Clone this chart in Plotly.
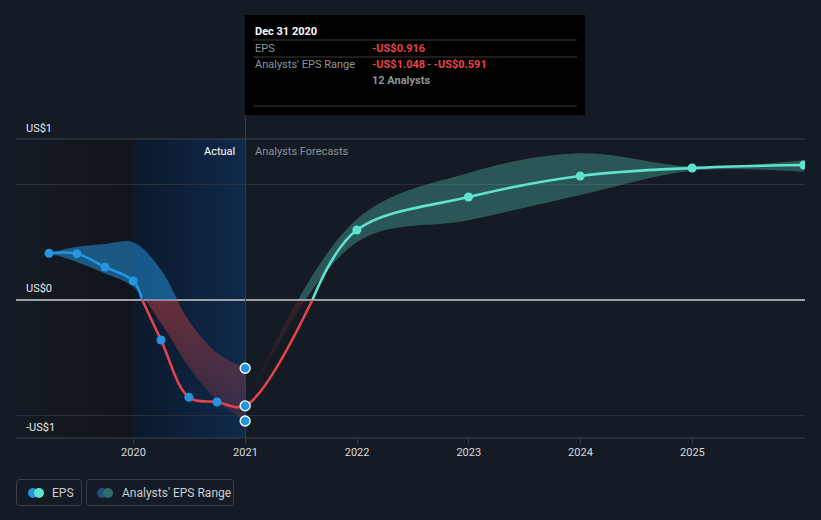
import pandas as pd
import plotly.graph_objects as go

# ---------------- data ----------------
actual_dates = ["2019-03-31", "2019-06-30", "2019-09-30", "2019-12-31",
                "2020-03-31", "2020-06-30", "2020-09-30", "2020-12-31"]
actual_eps = [0.405, 0.40, 0.286, 0.167, -0.346, -0.843, -0.883, -0.916]
actual_range_high = [0.405, 0.46, 0.485, 0.50, 0.26, -0.18, -0.46, -0.591]
actual_range_low = [0.405, 0.33, 0.23, 0.115, -0.20, -0.58, -0.87, -1.048]

forecast_dates = ["2020-12-31", "2021-12-31", "2022-12-31", "2023-12-31",
                  "2024-12-31", "2025-12-31"]
forecast_eps = [-0.916, 0.606, 0.892, 1.074, 1.143, 1.169]
forecast_high = [-0.916, 0.70, 1.10, 1.27, 1.155, 1.21]
forecast_low = [-0.916, 0.50, 0.69, 0.91, 1.12, 1.11]

n_analysts = 12
tick_years = [2020, 2021, 2022, 2023, 2024, 2025]
y_label_text = ["US$1", "US$0", "-US$1"]

# ---------------- style ----------------
W, H = 821, 520
L, R, T, B = 16, 16, 139, 82
Y_MIN, Y_MAX = -1.195, 1.394
X_MIN, X_MAX = "2018-12-13", "2026-01-04"
BG = "#151b24"
BLUE = "#2394df"
RED = "#e5434b"
TEAL = "#5fe3cf"
FONT = "Roboto"
ACTUAL_START, ACTUAL_END = "2020-01-01", "2021-01-01"


def px(xp):
    return (xp - L) / (W - L - R)


def py(yp):
    return (H - B - yp) / (H - T - B)


def lerp_color(c0, c1, f):
    a = [int(c0[i:i + 2], 16) for i in (1, 3, 5)]
    b = [int(c1[i:i + 2], 16) for i in (1, 3, 5)]
    return "#%02x%02x%02x" % tuple(round(a[k] + (b[k] - a[k]) * f) for k in range(3))


shapes = []

# background gradient strips (past region and "Actual" region)
def strips(d0, d1, c0, c1, n=24):
    t0, t1 = pd.Timestamp(d0), pd.Timestamp(d1)
    for i in range(n):
        a = t0 + (t1 - t0) * i / n
        b = t0 + (t1 - t0) * (i + 1) / n + pd.Timedelta(days=1)
        shapes.append(dict(type="rect", xref="x", yref="paper", x0=a, x1=min(b, t1),
                           y0=0, y1=1, fillcolor=lerp_color(c0, c1, (i + 0.5) / n),
                           line=dict(width=0), layer="below"))

strips(X_MIN, ACTUAL_START, "#151b24", "#11151b")
strips(ACTUAL_START, ACTUAL_END, "#0b192b", "#0e2a4c")

# grid lines
for yv in (1, -1):
    shapes.append(dict(type="line", xref="paper", yref="y", x0=0, x1=1, y0=yv, y1=yv,
                       line=dict(color="#2a313b", width=1), layer="below"))
shapes.append(dict(type="line", xref="paper", yref="paper", x0=0, x1=1, y0=1, y1=1,
                   line=dict(color="#3b424c", width=1), layer="below"))
shapes.append(dict(type="line", xref="paper", yref="paper", x0=0, x1=1, y0=0, y1=0,
                   line=dict(color="#3b424c", width=1), layer="below"))
shapes.append(dict(type="line", xref="paper", yref="y", x0=0, x1=1, y0=0, y1=0,
                   line=dict(color="#9da1a6", width=2), layer="below"))
# today divider
shapes.append(dict(type="line", xref="x", yref="paper", x0=ACTUAL_END, x1=ACTUAL_END,
                   y0=0, y1=py(115), line=dict(color="#1d4270", width=1), layer="below"))

fig = go.Figure()

# ---------------- bands ----------------
def band(dates, low, high, grad):
    fig.add_trace(go.Scatter(x=dates, y=low, mode="lines", line=dict(width=0, shape="spline"),
                             hoverinfo="skip", showlegend=False))
    fig.add_trace(go.Scatter(x=dates, y=high, mode="lines", line=dict(width=0, shape="spline"),
                             fill="tonexty", fillgradient=grad, hoverinfo="skip",
                             showlegend=False))

band(actual_dates, actual_range_low, actual_range_high,
     dict(type="vertical", start=-1.2, stop=0.6,
          colorscale=[[0, "rgba(230,70,70,0.12)"], [0.666, "rgba(230,70,70,0.42)"],
                      [0.667, "rgba(35,148,223,0.52)"], [1, "rgba(35,148,223,0.52)"]]))
band(forecast_dates, forecast_low, forecast_high,
     dict(type="vertical", start=-1.0, stop=1.4,
          colorscale=[[0, "rgba(230,70,70,0.03)"], [0.416, "rgba(230,70,70,0.16)"],
                      [0.417, "rgba(94,224,207,0.30)"], [1, "rgba(94,224,207,0.30)"]]))

# ---------------- EPS line, split by sign ----------------
all_dates = [pd.Timestamp(d) for d in actual_dates + forecast_dates[1:]]
all_eps = actual_eps + forecast_eps[1:]


def split_by_sign(dates, vals):
    segs = []
    cd, cv = [dates[0]], [vals[0]]
    for i in range(1, len(vals)):
        v0, v1 = vals[i - 1], vals[i]
        if (v0 >= 0) != (v1 >= 0):
            frac = v0 / (v0 - v1)
            tc = dates[i - 1] + (dates[i] - dates[i - 1]) * frac
            cd.append(tc); cv.append(0.0)
            segs.append((cd, cv, v0 >= 0))
            cd, cv = [tc], [0.0]
        cd.append(dates[i]); cv.append(vals[i])
    segs.append((cd, cv, vals[-1] >= 0))
    return segs


for sd, sv, pos in split_by_sign(all_dates, all_eps):
    if not pos:
        col = RED
    elif sd[-1] <= pd.Timestamp(actual_dates[-1]):
        col = BLUE
    else:
        col = TEAL
    fig.add_trace(go.Scatter(x=sd, y=sv, mode="lines",
                             line=dict(color=col, width=2.6, shape="spline"),
                             hoverinfo="skip", showlegend=False))

# markers
fig.add_trace(go.Scatter(x=actual_dates[:-1], y=actual_eps[:-1], mode="markers",
                         marker=dict(color=BLUE, size=9), hoverinfo="skip", showlegend=False))
fig.add_trace(go.Scatter(x=forecast_dates[1:], y=forecast_eps[1:], mode="markers",
                         marker=dict(color=TEAL, size=9), hoverinfo="skip", showlegend=False))
last = actual_dates[-1]
fig.add_trace(go.Scatter(x=[last, last, last],
                         y=[actual_range_high[-1], actual_eps[-1], actual_range_low[-1]],
                         mode="markers",
                         marker=dict(color=BLUE, size=10, line=dict(color="white", width=1.3)),
                         hoverinfo="skip", showlegend=False))

# ---------------- annotations ----------------
ann = []


def text(x, y, s, color, size=11, anchor="left", bold=False):
    ann.append(dict(xref="paper", yref="paper", x=px(x), y=py(y), text=(f"<b>{s}</b>" if bold else s),
                    showarrow=False, xanchor=anchor, yanchor="middle",
                    font=dict(family=FONT, size=size, color=color)))


# y labels (at top, zero, bottom of range)
for lab, yv in zip(y_label_text, [Y_MAX, 0, Y_MIN]):
    ann.append(dict(xref="paper", yref="y", x=px(24), y=yv, yshift=11, text=lab,
                    showarrow=False, xanchor="left", yanchor="middle",
                    font=dict(family=FONT, size=11, color="#e6e8ea")))

text(237, 151, "Actual", "#ffffff", anchor="right")
text(253, 151, "Analysts Forecasts", "#8b9199")

# tooltip
shapes.append(dict(type="rect", xref="paper", yref="paper", x0=px(245), x1=px(585),
                   y0=py(115), y1=py(15), fillcolor="#000000", line=dict(width=0),
                   layer="above"))
for yy in (40, 57, 106):
    shapes.append(dict(type="line", xref="paper", yref="paper", x0=px(253), x1=px(577),
                       y0=py(yy), y1=py(yy), line=dict(color="#3a3a3a", width=1),
                       layer="above"))

def fmt(v):
    return ("-" if v < 0 else "") + "US$%.3f" % abs(v)

date_label = pd.Timestamp(last).strftime("%b %d %Y")
text(253, 31, date_label, "#ffffff", bold=True)
text(253, 48, "EPS", "#8f959c")
text(370, 48, fmt(actual_eps[-1]), "#e8434b", bold=True)
text(253, 65, "Analysts' EPS Range", "#8f959c")
ann.append(dict(xref="paper", yref="paper", x=px(370), y=py(65),
                text=f"<b>{fmt(actual_range_low[-1])}</b><span style='color:#8f959c'> - </span><b>{fmt(actual_range_high[-1])}</b>",
                showarrow=False, xanchor="left", yanchor="middle",
                font=dict(family=FONT, size=11, color="#e8434b")))
text(370, 81, f"{n_analysts} Analysts", "#8f959c", bold=True)

# ---------------- legend (drawn) ----------------
def rounded_rect(x0, y0, x1, y1, r=3):
    X0, X1 = px(x0), px(x1)
    Y0, Y1 = py(y0), py(y1)
    rx = r / (W - L - R)
    ry = r / (H - T - B)
    return (f"M{X0+rx},{Y0} L{X1-rx},{Y0} Q{X1},{Y0} {X1},{Y0-ry} L{X1},{Y1+ry} "
            f"Q{X1},{Y1} {X1-rx},{Y1} L{X0+rx},{Y1} Q{X0},{Y1} {X0},{Y1+ry} "
            f"L{X0},{Y0-ry} Q{X0},{Y0} {X0+rx},{Y0} Z")


def circle(cx, cy, r, color):
    shapes.append(dict(type="circle", xref="paper", yref="paper", x0=px(cx - r), x1=px(cx + r),
                       y0=py(cy + r), y1=py(cy - r), fillcolor=color, line=dict(width=0),
                       layer="above"))


for (x0, x1) in ((16.5, 81.5), (86.5, 233.5)):
    shapes.append(dict(type="path", xref="paper", yref="paper", path=rounded_rect(x0, 479.5, x1, 505.5),
                       line=dict(color="#3a414b", width=1), fillcolor="rgba(0,0,0,0)",
                       layer="above"))
circle(33, 493, 5, BLUE)
circle(39, 493, 5, TEAL)
circle(102, 493, 5, "#1f4f78")
circle(108, 493, 5, "#2e6d69")
text(50, 493, "EPS", "#c9cdd2", size=12)
text(120, 493, "Analysts' EPS Range", "#c9cdd2", size=12)

fig.update_layout(
    width=W, height=H, margin=dict(l=L, r=R, t=T, b=B),
    paper_bgcolor=BG, plot_bgcolor=BG, showlegend=False,
    font=dict(family=FONT),
    xaxis=dict(type="date", range=[X_MIN, X_MAX],
               tickvals=[f"{y}-01-01" for y in tick_years], ticktext=[str(y) for y in tick_years],
               showgrid=False, zeroline=False, showline=False, ticks="outside", ticklen=4,
               tickcolor="#3b424c", tickfont=dict(family=FONT, size=11, color="#d8dbdf"),
               fixedrange=True),
    yaxis=dict(range=[Y_MIN, Y_MAX], showgrid=False, zeroline=False, showticklabels=False,
               fixedrange=True),
    shapes=shapes, annotations=ann,
)

fig.write_html("out.html")
